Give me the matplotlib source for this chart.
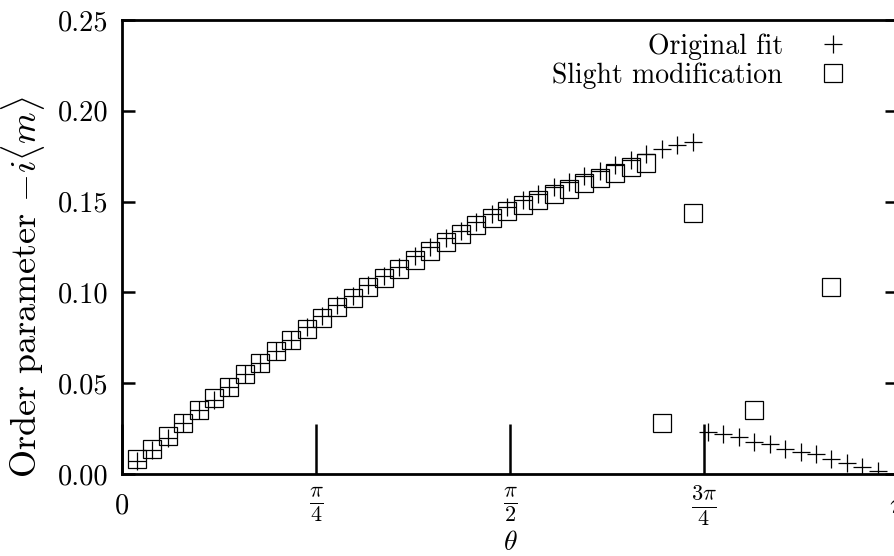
import numpy as np
import matplotlib
matplotlib.use("Agg")
import matplotlib.pyplot as plt

plt.rcParams["font.family"] = "serif"
plt.rcParams["font.serif"] = ["cmr10"]
plt.rcParams["mathtext.fontset"] = "cm"
plt.rcParams["axes.formatter.use_mathtext"] = True

# theta grid of the scan
theta = [0.060, 0.122, 0.185, 0.247, 0.310, 0.372, 0.435, 0.497, 0.560,
         0.622, 0.685, 0.747, 0.810, 0.872, 0.935, 0.997, 1.060, 1.122,
         1.185, 1.247, 1.310, 1.372, 1.435, 1.497, 1.560, 1.622, 1.685,
         1.747, 1.810, 1.872, 1.935, 1.997, 2.060, 2.122, 2.185, 2.247,
         2.310, 2.372, 2.435, 2.497, 2.560, 2.622, 2.685, 2.747, 2.810,
         2.872, 2.935, 2.997, 3.060]

# original fit: ordered branch, then the small tail past 3pi/4
orig = [0.007, 0.013, 0.020, 0.028, 0.035, 0.041, 0.048, 0.055, 0.061,
        0.068, 0.074, 0.081, 0.087, 0.093, 0.098, 0.104, 0.109, 0.114,
        0.120, 0.125, 0.130, 0.134, 0.139, 0.143, 0.147, 0.151, 0.154,
        0.158, 0.161, 0.164, 0.167, 0.170, 0.173, 0.176, 0.179, 0.181,
        0.183, 0.0230, 0.0220, 0.0205, 0.0178, 0.0163, 0.0138, 0.0123,
        0.0108, 0.0081, 0.0062, 0.0040, 0.0018]

# slight modification: same scan, only converged points kept
mod_idx = list(range(34)) + [34, 36, 40, 45]
mod = [0.008, 0.014, 0.021, 0.028, 0.035, 0.042, 0.048, 0.055, 0.061,
       0.068, 0.074, 0.080, 0.086, 0.092, 0.097, 0.103, 0.108, 0.113,
       0.118, 0.123, 0.128, 0.132, 0.137, 0.141, 0.145, 0.148, 0.151,
       0.154, 0.157, 0.160, 0.163, 0.166, 0.169, 0.171,
       0.028, 0.144, 0.035, 0.103]

xticks = [0, np.pi / 4, np.pi / 2, 3 * np.pi / 4, np.pi]
xticklabels = ["$0$", r"$\frac{\pi}{4}$", r"$\frac{\pi}{2}$",
               r"$\frac{3\pi}{4}$", r"$\pi$"]
yticks = [0.00, 0.05, 0.10, 0.15, 0.20, 0.25]
yticklabels = ["0.00", "0.05", "0.10", "0.15", "0.20", "0.25"]

fig = plt.figure(figsize=(8.94, 5.56), dpi=100)
ax = fig.add_axes([0.1365, 0.1475, 0.868, 0.8165])

ax.plot(theta, orig, ls="none", marker="+", ms=13, mew=0.9, color="black",
        label="Original fit")
ax.plot([theta[i] for i in mod_idx], mod, ls="none", marker="s", ms=13,
        mew=0.9, mfc="none", mec="black", label="Slight modification")

ax.set_xlim(0, np.pi)
ax.set_ylim(0, 0.25)
ax.set_xticks(xticks)
ax.set_xticklabels(xticklabels)
ax.set_yticks(yticks)
ax.set_yticklabels(yticklabels, fontsize=20.5)
for lab in ax.get_xticklabels():
    lab.set_va("center")
    lab.set_fontsize(20.5 if "frac" not in lab.get_text() else 23)

for s in ax.spines.values():
    s.set_linewidth(2)
ax.tick_params(axis="x", direction="in", length=36, width=1.8, pad=23,
               top=False)
ax.tick_params(axis="y", direction="in", length=9.5, width=1.8, pad=10,
               left=True, right=True)

ax.set_xlabel(r"$\theta$", fontsize=20)
ax.set_ylabel(r"Order parameter $-i\langle m\rangle$", fontsize=26)
ax.xaxis.set_label_coords(0.5, -0.122)
ax.yaxis.set_label_coords(-0.097, 0.412)

# gnuplot-style key: right-aligned labels with the sample to the right
ax.legend(loc="upper right", bbox_to_anchor=(0.952, 0.995),
          markerfirst=False, frameon=False, fontsize=20,
          handlelength=1.2, handletextpad=1.2, labelspacing=0.1,
          borderaxespad=0.0)

fig.savefig("out.png", dpi=100)
